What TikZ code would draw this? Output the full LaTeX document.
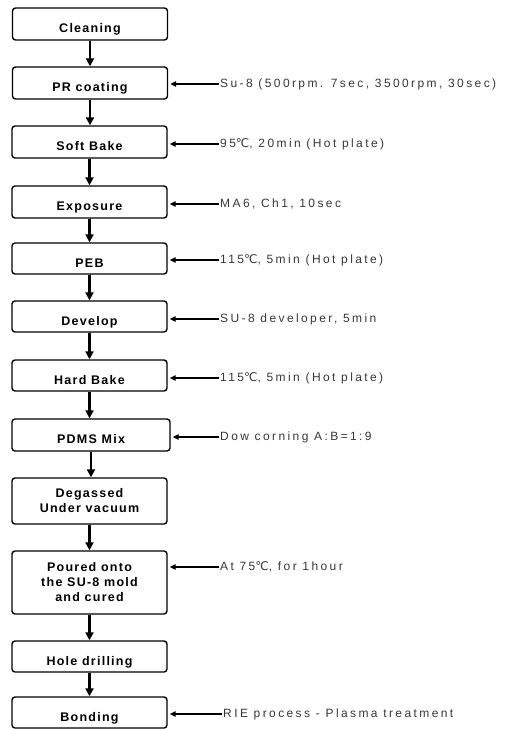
\documentclass[tikz,border=0pt]{standalone}
\usepackage{fontspec}
\setmainfont{Liberation Sans}
\newfontfamily\boxfont[LetterSpace=10]{Liberation Sans}
\newfontfamily\notefont[LetterSpace=20]{Liberation Sans}
\newfontfamily\symfont{DejaVu Sans}
\newcommand\degc{{\symfont ℃}}
\usepackage{xcolor}
\definecolor{notegray}{RGB}{55,55,55}
\usetikzlibrary{arrows.meta}

\begin{document}
\begin{tikzpicture}[x=1pt,y=-1pt,
  stepbox/.style={draw,line width=1.4pt,rounded corners=3pt,minimum width=155pt,
    minimum height=32pt,inner sep=1pt,font=\boxfont\bfseries\fontsize{12.5}{12.5}\selectfont,
    text height=17pt,text depth=0pt},
  tallbox/.style={draw,line width=1.4pt,rounded corners=3pt,minimum width=155pt,
    inner sep=1pt,align=center,font=\boxfont\bfseries\fontsize{12.5}{15}\selectfont},
  note/.style={anchor=west,inner sep=1pt,text=notegray,font=\notefont\fontsize{12}{12}\selectfont},
  flow/.style={line width=2.2pt,-{Triangle[width=8pt,length=8pt]}},
  feed/.style={line width=1.3pt,-{Triangle[width=5.5pt,length=6pt]},shorten >=2pt}]
\useasboundingbox (0,0) rectangle (509,729);
% process steps
\node[stepbox] (clean) at (90,24) {Cleaning};
\node[stepbox] (coat) at (90,83) {PR coating};
\node[stepbox] (soft) at (89.5,142) {Soft Bake};
\node[stepbox] (expo) at (89.5,202) {Exposure};
\node[stepbox,minimum height=31pt] (peb) at (89.5,258.5) {PEB};
\node[stepbox,minimum height=31pt] (dev) at (89.5,316.5) {Develop};
\node[stepbox,minimum height=31pt] (hard) at (89.5,375.5) {Hard Bake};
\node[stepbox,minimum width=158pt] (mix) at (91,435) {PDMS Mix};
\node[tallbox,minimum height=46pt] (degas) at (89.5,501) {Degassed\\Under vacuum};
\node[tallbox,minimum height=63pt] (pour) at (89.5,582.5) {Poured onto\\the SU-8 mold\\and cured};
\node[stepbox,minimum height=31pt] (hole) at (89.5,656.5) {Hole drilling};
\node[stepbox,minimum height=31pt] (bond) at (89.5,712.5) {Bonding};
% conditions
\node[note] (ncoat) at (219,84) {Su-8 (500rpm. 7sec, 3500rpm, 30sec)};
\node[note] (nsoft) at (219,144) {95\degc, 20min (Hot plate)};
\node[note] (nexpo) at (219,204) {MA6, Ch1, 10sec};
\node[note] (npeb) at (219,260) {115\degc, 5min (Hot plate)};
\node[note] (ndev) at (219,319) {SU-8 developer, 5min};
\node[note] (nhard) at (219,378) {115\degc, 5min (Hot plate)};
\node[note] (nmix) at (219,437) {Dow corning A:B=1:9};
\node[note] (npour) at (219,567) {At 75\degc, for 1hour};
\node[note] (nbond) at (222,714) {RIE process - Plasma treatment};
% connectors
\foreach \a/\b in {clean/coat,coat/soft,soft/expo,expo/peb,peb/dev,dev/hard,
  hard/mix,mix/degas,degas/pour,pour/hole,hole/bond}
  \draw[flow] (\a.south) -- (\a.south |- \b.north);
\foreach \n/\b in {ncoat/coat,nsoft/soft,nexpo/expo,npeb/peb,ndev/dev,
  nhard/hard,nmix/mix,npour/pour,nbond/bond}
  \draw[feed] (\n.west) -- (\n.west -| \b.east);
\end{tikzpicture}
\end{document}
